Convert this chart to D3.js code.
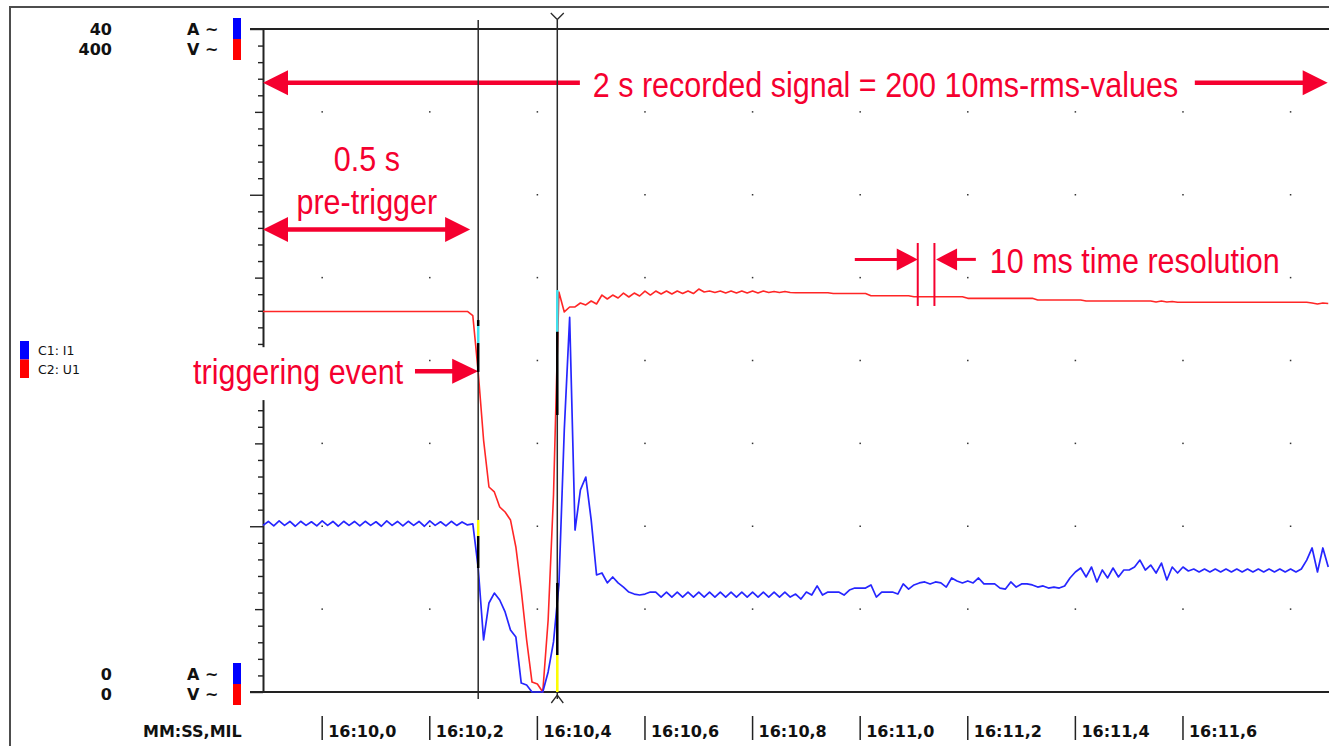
<!DOCTYPE html>
<html>
<head>
<meta charset="utf-8">
<title>2 s recorded signal</title>
<script src="https://cdn.jsdelivr.net/npm/d3@7"></script>
<style>
  body { margin: 0; background: #fff; overflow: hidden; }
  svg { display: block; }
</style>
</head>
<body>
<div class="container"></div>
<script>
// 10ms rms values, first sample at 16:09,890 (ms relative to 16:10,000)
const startMs = -110;
const stepMs = 10;

// C1: I1 in A
const current = [
  10.05, 10.29, 10.02, 10.32, 10.05, 10.29, 10.00, 10.30, 10.05, 10.27,
  10.02, 10.32, 10.05, 10.29, 10.00, 10.30, 10.05, 10.29, 10.02, 10.30,
  10.05, 10.27, 10.00, 10.32, 10.05, 10.29, 10.02, 10.30, 10.05, 10.29,
  10.00, 10.32, 10.05, 10.27, 10.02, 10.30, 10.05, 10.26, 10.08, 10.14,
  7.48, 3.14, 5.37, 5.97, 5.55, 4.83, 3.74, 3.32, 0.54, 0.42,
  0, 0, 0, 1.21, 3.02, 6.46, 15.81, 22.6, 9.77, 12.19,
  12.97, 10.38, 7.06, 7.18, 6.58, 6.94, 6.58, 6.33, 6.03, 5.91,
  5.85, 5.91, 6.03, 6.03, 5.73, 6.03, 5.73, 6.03, 5.73, 6.03,
  5.73, 6.03, 5.73, 6.03, 5.73, 6.03, 5.73, 6.03, 5.73, 6.03,
  5.73, 6.03, 5.73, 6.03, 5.73, 6.03, 5.73, 6.03, 5.73, 5.91,
  5.61, 6.03, 5.85, 6.40, 5.85, 6.03, 6.03, 6.03, 5.85, 6.15,
  6.27, 6.27, 6.27, 6.46, 5.73, 6.03, 6.03, 6.03, 5.91, 6.52,
  6.21, 6.46, 6.58, 6.64, 6.52, 6.64, 6.58, 6.33, 6.88, 6.70,
  6.58, 6.70, 6.58, 6.88, 6.52, 6.52, 6.52, 6.27, 6.21, 6.64,
  6.33, 6.52, 6.52, 6.46, 6.33, 6.40, 6.27, 6.33, 6.27, 6.40,
  6.88, 7.24, 7.48, 6.94, 7.54, 6.64, 7.36, 6.88, 7.48, 6.94,
  7.36, 7.36, 7.54, 7.96, 7.36, 7.66, 7.18, 7.78, 6.76, 7.54,
  7.18, 7.54, 7.30, 7.42, 7.24, 7.42, 7.24, 7.42, 7.24, 7.42,
  7.24, 7.42, 7.24, 7.42, 7.24, 7.42, 7.24, 7.42, 7.24, 7.42,
  7.24, 7.42, 7.24, 7.42, 7.96, 8.69, 7.24, 8.69, 7.54
];

// C2: U1 in V
const voltage = [
  229.6, 229.6, 229.6, 229.6, 229.6, 229.6, 229.6, 229.6, 229.6, 229.6,
  229.6, 229.6, 229.6, 229.6, 229.6, 229.6, 229.6, 229.6, 229.6, 229.6,
  229.6, 229.6, 229.6, 229.6, 229.6, 229.6, 229.6, 229.6, 229.6, 229.6,
  229.6, 229.6, 229.6, 229.6, 229.6, 229.6, 229.6, 229.6, 229.6, 227.0,
  193.1, 152.0, 123.7, 120.7, 111.6, 108.6, 103.8, 87.5, 61.5, 31.4,
  6.0, 4.8, 0, 43.4, 119.0, 241.3, 229.3, 232.3, 232.3, 234.7,
  233.5, 235.9, 234.1, 239.5, 237.1, 239.5, 237.7, 240.7, 238.3, 240.7,
  238.9, 241.9, 239.5, 241.9, 240.1, 241.9, 240.1, 241.9, 240.4, 241.9,
  240.4, 243.1, 241.3, 241.9, 241.0, 241.9, 240.7, 241.9, 240.7, 241.9,
  240.7, 241.9, 240.7, 241.9, 241.0, 241.6, 241.0, 241.6, 241.0, 240.9,
  240.9, 240.9, 240.9, 240.9, 240.9, 240.9, 240.4, 240.4, 240.4, 240.4,
  240.4, 240.4, 240.4, 239.1, 239.1, 239.1, 239.1, 239.1, 239.1, 239.1,
  239.1, 238.5, 238.5, 238.5, 238.5, 238.5, 238.5, 238.5, 238.5, 238.5,
  238.5, 237.5, 237.5, 237.5, 237.5, 237.5, 237.5, 237.5, 237.5, 237.5,
  237.5, 237.5, 237.5, 237.5, 236.5, 236.5, 236.5, 236.5, 236.5, 236.5,
  236.5, 236.5, 236.5, 235.9, 235.9, 235.9, 235.9, 235.9, 235.9, 235.9,
  235.9, 235.9, 235.9, 235.9, 235.9, 235.9, 235.3, 235.9, 235.3, 235.6,
  235.1, 235.1, 235.1, 235.1, 235.1, 235.1, 235.1, 235.1, 235.1, 235.1,
  235.1, 235.1, 235.1, 235.1, 235.1, 235.1, 235.1, 235.1, 235.1, 235.1,
  235.1, 235.1, 235.1, 235.1, 235.1, 234.7, 234.1, 234.7, 234.4
];

// time axis labels (ms after 16:10,000)
const timeTicks = [0, 200, 400, 600, 800, 1000, 1200, 1400, 1600];
const gridTimes = [0, 200, 400, 600, 800, 1000, 1200, 1400, 1600, 1800];
const gridAmps = [5, 10, 15, 20, 25, 30, 35];

// two cursors (ms) and the value bars painted on them
const cursors = [290, 437];
const cursorMarks = [
  { t: 290, ch: 'U', from: 224.4, to: 220.8, kind: 'val' },
  { t: 290, ch: 'U', from: 220.8, to: 210.5, kind: 'sel' },
  { t: 290, ch: 'U', from: 210.5, to: 193.1, kind: 'val' },
  { t: 290, ch: 'I', from: 10.38, to: 9.41, kind: 'ref' },
  { t: 290, ch: 'I', from: 9.41, to: 7.48, kind: 'val' },
  { t: 437, ch: 'U', from: 242.5, to: 217.3, kind: 'sel' },
  { t: 437, ch: 'U', from: 217.3, to: 167.1, kind: 'val' },
  { t: 437, ch: 'I', from: 6.58, to: 2.23, kind: 'val' },
  { t: 437, ch: 'I', from: 2.23, to: 0, kind: 'ref' }
];
const markColors = { val: '#000', sel: '#3fe3f0', ref: '#ffff00' };

const width = 1329;
const height = 746;
const red = '#f5002f';

const svg = d3.select('.container')
  .append('svg')
  .attr('width', width)
  .attr('height', height);

const x = d3.scaleLinear().domain([-110, 1890]).range([263, 1339]);
const yA = d3.scaleLinear().domain([0, 40]).range([692, 29]);
const yV = d3.scaleLinear().domain([0, 400]).range([692, 29]);
const tOf = i => startMs + i * stepMs;
const x0 = x(startMs);

// window frame
svg.append('rect')
  .attr('x', 10).attr('y', 7)
  .attr('width', 1340).attr('height', 760)
  .attr('fill', 'none')
  .attr('stroke', '#4d4d4d')
  .attr('stroke-width', 2);

// left axis, ticks every 1 A / 10 V
const yAxis = d3.axisLeft(yA)
  .tickValues(d3.range(0, 41))
  .tickFormat('')
  .tickSizeOuter(0);

const gy = svg.append('g')
  .attr('transform', `translate(${x0},0)`)
  .call(yAxis);
gy.select('.domain').attr('stroke', '#222').attr('stroke-width', 2);
gy.selectAll('.tick line')
  .attr('x2', d => d % 10 === 0 ? -13 : d % 5 === 0 ? -8 : -5)
  .attr('stroke', '#222')
  .attr('stroke-width', 1.4);

// top and bottom frame lines of the plot
[40, 0].forEach(v => {
  svg.append('line')
    .attr('x1', x0 - 13).attr('x2', width)
    .attr('y1', yA(v)).attr('y2', yA(v))
    .attr('stroke', '#222')
    .attr('stroke-width', 2);
});

// dotted grid
svg.append('g')
  .selectAll('rect')
  .data(d3.cross(gridTimes, gridAmps))
  .enter()
  .append('rect')
  .attr('x', d => x(d[0]) - 0.75)
  .attr('y', d => yA(d[1]) - 0.75)
  .attr('width', 1.5)
  .attr('height', 1.5)
  .attr('fill', '#333');

// scale labels
const bold = svg.append('g')
  .style('font-family', '"DejaVu Sans", Verdana, sans-serif')
  .style('font-weight', 'bold')
  .style('font-size', '16px')
  .attr('fill', '#111');

const scaleLabels = [
  { txt: '40', unit: 'A ~', y: 35 },
  { txt: '400', unit: 'V ~', y: 55 },
  { txt: '0', unit: 'A ~', y: 680 },
  { txt: '0', unit: 'V ~', y: 700 }
];
scaleLabels.forEach(d => {
  bold.append('text').attr('x', 112).attr('y', d.y).attr('text-anchor', 'end').text(d.txt);
  bold.append('text').attr('x', 187).attr('y', d.y).text(d.unit);
});

// unit colour swatches
[[18, 663], [39, 684]].forEach((pair, k) => {
  pair.forEach(top => {
    svg.append('rect')
      .attr('x', 233).attr('y', top)
      .attr('width', 8).attr('height', 21)
      .attr('fill', k === 0 ? '#0000ff' : '#ff0000');
  });
});

// time labels
bold.append('text').attr('x', 143).attr('y', 737).text('MM:SS,MIL');
const fmtTime = t => `16:${10 + Math.floor(t / 1000)},${(t % 1000) / 100}`;
timeTicks.forEach(t => {
  svg.append('line')
    .attr('x1', x(t)).attr('x2', x(t))
    .attr('y1', 716).attr('y2', 740)
    .attr('stroke', '#222')
    .attr('stroke-width', 1.5);
  bold.append('text').attr('x', x(t) + 6).attr('y', 737).text(fmtTime(t));
});

// channel legend
const legend = [{ name: 'C1: I1', color: '#0000ff' }, { name: 'C2: U1', color: '#ff0000' }];
legend.forEach((d, i) => {
  svg.append('rect')
    .attr('x', 20).attr('y', 341 + i * 18.5)
    .attr('width', 9).attr('height', 18.5)
    .attr('fill', d.color);
  svg.append('text')
    .attr('x', 38).attr('y', 355 + i * 18.5)
    .style('font-family', '"DejaVu Sans", sans-serif')
    .style('font-size', '12.5px')
    .attr('fill', '#111')
    .text(d.name);
});

// series
const lineI = d3.line().x((d, i) => x(tOf(i))).y(d => yA(d));
const lineU = d3.line().x((d, i) => x(tOf(i))).y(d => yV(d));

svg.append('path')
  .datum(voltage)
  .attr('d', lineU)
  .attr('fill', 'none')
  .attr('stroke', '#ff2626')
  .attr('stroke-width', 1.6)
  .attr('stroke-linejoin', 'round');

svg.append('path')
  .datum(current)
  .attr('d', lineI)
  .attr('fill', 'none')
  .attr('stroke', '#2626ff')
  .attr('stroke-width', 1.7)
  .attr('stroke-linejoin', 'round');

// annotations (narrow-looking red text: 30.5px font stretched vertically)
const notes = svg.append('g');
const bar = (xa, xb, y, w) => notes.append('line')
  .attr('x1', xa).attr('x2', xb).attr('y1', y).attr('y2', y)
  .attr('stroke', red).attr('stroke-width', w);
const head = (tip, y, dir, len, half) => notes.append('path')
  .attr('d', `M${tip},${y}L${tip - dir * len},${y - half}L${tip - dir * len},${y + half}Z`)
  .attr('fill', red);
const label = (str, xPos, yPos, anchor, padX, padY) => {
  const g = notes.append('g')
    .attr('transform', `translate(${xPos},${yPos}) scale(1,1.18)`);
  const box = g.append('rect').attr('fill', '#fff');
  const t = g.append('text')
    .attr('text-anchor', anchor)
    .style('font-family', '"Liberation Sans", Arial, sans-serif')
    .style('font-size', '30.5px')
    .attr('fill', red)
    .text(str);
  const b = t.node().getBBox();
  box.attr('x', b.x - padX).attr('y', b.y + 3 - padY)
    .attr('width', b.width + 2 * padX).attr('height', b.height - 3 + 2 * padY);
};

// 2 s recorded signal
const recY = yV(367.5);
label('2 s recorded signal = 200 10ms-rms-values', x(503), recY + 14, 'start', 4, 1);
bar(x(startMs) + 20, x(479), recY, 4.5);
head(x(startMs), recY, -1, 25, 12.5);
bar(x(1622), x(1869) - 20, recY, 4.5);
head(x(1869), recY, 1, 25, 12.5);

// 0.5 s pre-trigger
const preY = yV(279);
label('0.5 s', x(83), preY - 59, 'middle', 4, 1);
label('pre-trigger', x(83), preY - 16, 'middle', 4, 1);
bar(x(startMs) + 20, x(275) - 20, preY, 4.5);
head(x(startMs), preY, -1, 25, 12.5);
head(x(275), preY, 1, 25, 12.5);

// triggering event
const trigY = yV(193.5);
label('triggering event', x(-240), trigY + 13, 'start', 6, 7);
bar(x(172.5), x(290) - 20, trigY, 4.5);
head(x(290), trigY, 1, 26, 12.5);

// 10 ms time resolution
const resY = yV(261);
label('10 ms time resolution', x(1241), resY + 14, 'start', 5, 1);
bar(x(990), x(1107) - 15, resY, 3);
head(x(1107), resY, 1, 21, 11);
bar(x(1141) + 15, x(1215), resY, 3);
head(x(1141), resY, -1, 21, 11);
[1107, 1138].forEach(t => {
  notes.append('line')
    .attr('x1', x(t)).attr('x2', x(t))
    .attr('y1', yV(270.9)).attr('y2', yV(232.9))
    .attr('stroke', red)
    .attr('stroke-width', 2);
});

// cursors
cursors.forEach((t, i) => {
  svg.append('line')
    .attr('x1', x(t)).attr('x2', x(t))
    .attr('y1', 20).attr('y2', 699)
    .attr('stroke', '#2a2a2a')
    .attr('stroke-width', 1.5);
  if (i === 1) {
    svg.append('path')
      .attr('d', `M${x(t) - 6.5},13L${x(t)},19.5L${x(t) + 6.5},13`)
      .attr('fill', 'none').attr('stroke', '#2a2a2a').attr('stroke-width', 1.3);
    svg.append('path')
      .attr('d', `M${x(t) - 6},703L${x(t)},695L${x(t) + 6},703`)
      .attr('fill', 'none').attr('stroke', '#2a2a2a').attr('stroke-width', 1.3);
  }
});

svg.append('g')
  .selectAll('line')
  .data(cursorMarks)
  .enter()
  .append('line')
  .attr('x1', d => x(d.t)).attr('x2', d => x(d.t))
  .attr('y1', d => (d.ch === 'U' ? yV : yA)(d.from))
  .attr('y2', d => (d.ch === 'U' ? yV : yA)(d.to))
  .attr('stroke', d => markColors[d.kind])
  .attr('stroke-width', 2.5);
</script>
</body>
</html>
